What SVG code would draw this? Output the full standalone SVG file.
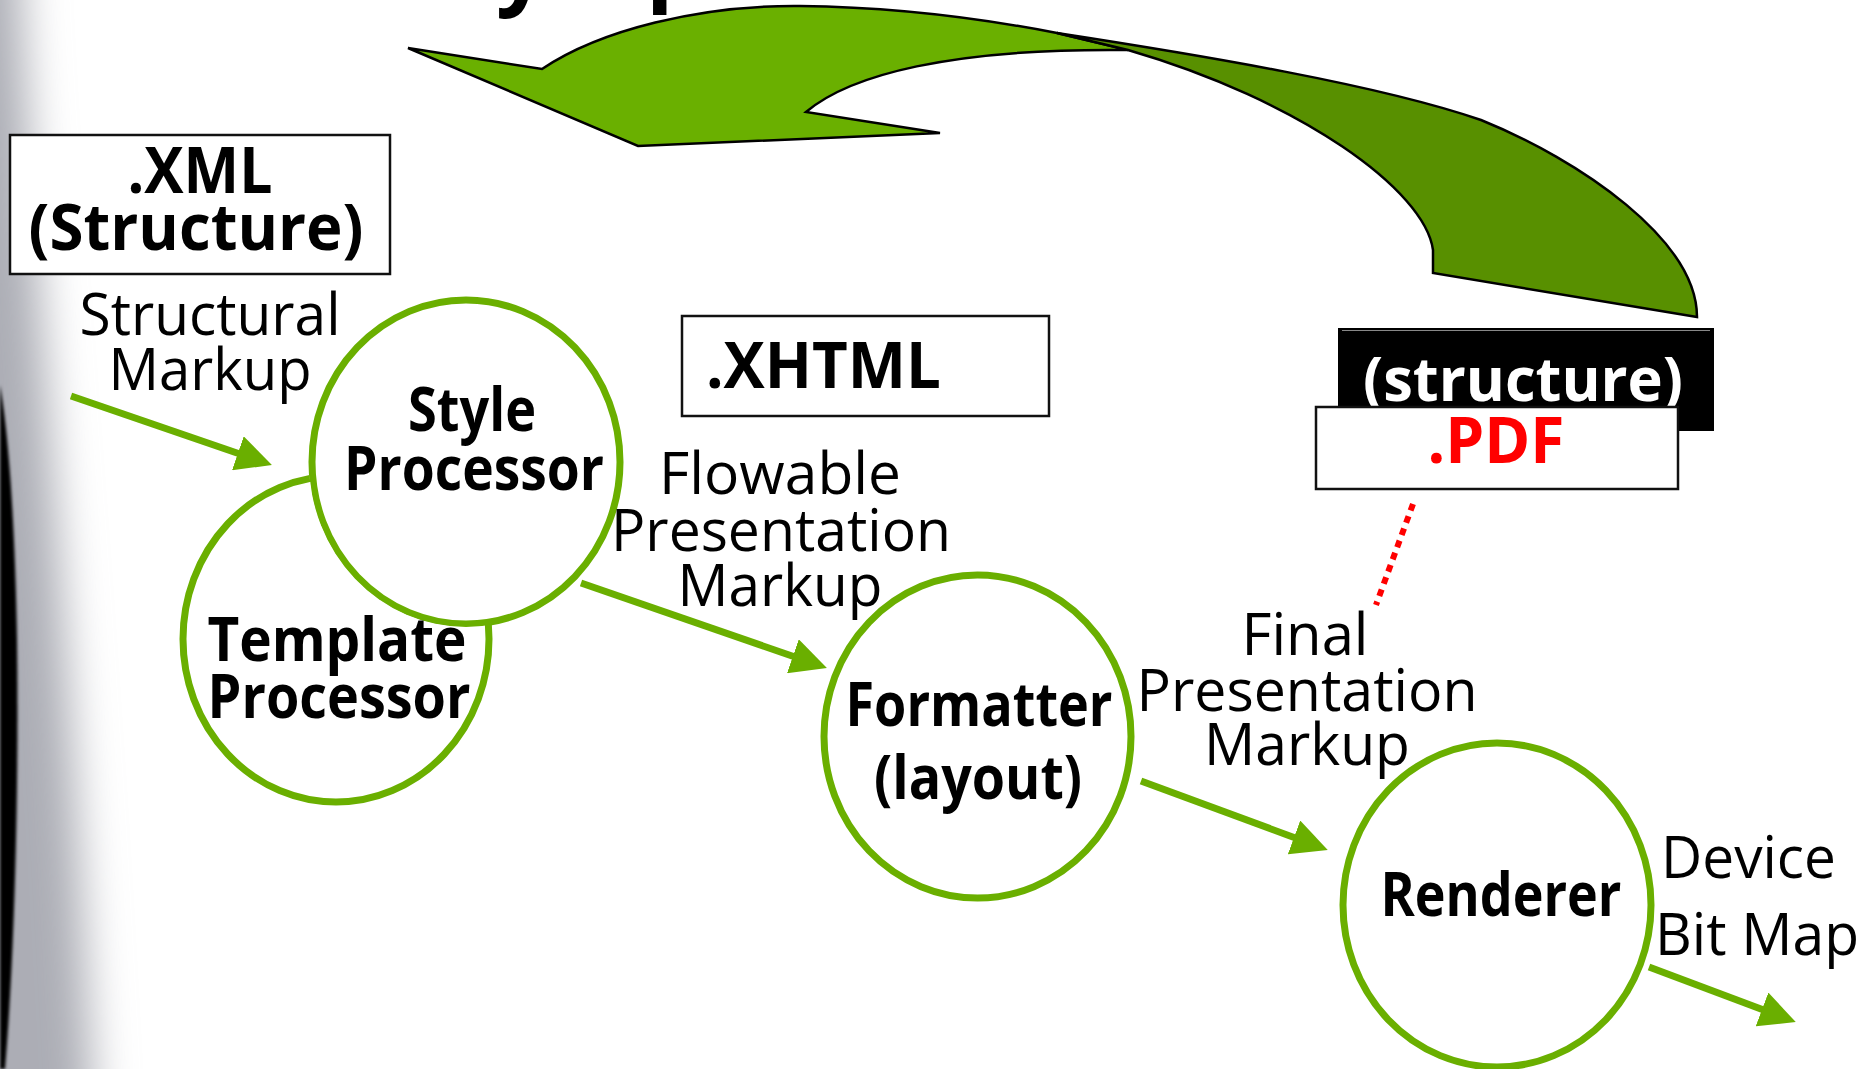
<svg xmlns="http://www.w3.org/2000/svg" width="1867" height="1069" viewBox="0 0 1867 1069">
<defs>
<style>
.lbl{font-family:"Open Sans","Noto Sans","DejaVu Sans",sans-serif;font-size:58px;fill:#000;}
.bold{font-family:"Open Sans","Noto Sans","DejaVu Sans",sans-serif;font-weight:700;font-size:60px;fill:#000;}
.big{font-size:64px;}
.title{font-size:90px;}
.node{fill:#fff;stroke:#6aaf00;stroke-width:7;}
.conn{stroke:#6aaf00;stroke-width:7;fill:none;marker-end:url(#ah);}
.box{fill:#fff;stroke:#111;stroke-width:2.5;}
.band{stroke:#000;stroke-width:2.5;stroke-linejoin:miter;}
</style>
<marker id="ah" markerUnits="userSpaceOnUse" markerWidth="36" markerHeight="36" refX="16" refY="18" orient="auto" viewBox="0 0 36 36">
<path d="M0,0 L36,18 L0,36 Z" fill="#6aaf00"/>
</marker>
<filter id="soft" x="-1" y="-1" width="3" height="3">
<feGaussianBlur stdDeviation="22"/>
</filter>
<filter id="soft2" x="-1" y="-1" width="3" height="3">
<feGaussianBlur stdDeviation="1.5"/>
</filter>
<mask id="outsideStyle" maskUnits="userSpaceOnUse" x="0" y="0" width="1867" height="1069">
<rect width="1867" height="1069" fill="#fff"/>
<ellipse cx="466" cy="462" rx="157" ry="165" fill="#000"/>
</mask>
</defs>
<rect width="1867" height="1069" fill="#fff"/>
<g id="backdrop">
<path d="M-80,-80 H18 C30,250 70,600 95,1150 H-80 Z" fill="#acadb5" filter="url(#soft)"/>
<path d="M0,385 C8,430 15,520 17,640 C19,800 14,960 5,1069 L0,1069 Z" fill="#000" filter="url(#soft2)"/>
<text class="bold title" x="496" y="-3">y</text>
<text class="bold title" x="646" y="-7">p</text>
</g>
<g id="connectors">
<g id="cycle-arrow">
<path class="band" fill="#6ab000" d="M408,48 L542,69 C600,30 700,5 800,6 C900,7 990,20 1057,33 L1128,50 C950,48 850,75 806,112 L940,133 L638,146 Z"/>
<path class="band" fill="#589000" d="M1057,33 C1200,55 1380,85 1481,120 C1580,160 1697,240 1697,317 L1433,273 L1433,250 C1425,190 1300,100 1128,50 Z"/>
</g>
<line class="conn" x1="71" y1="396" x2="253" y2="458.5"/>
<line class="conn" x1="581" y1="583" x2="808" y2="661.5"/>
<line class="conn" x1="1141" y1="781" x2="1309" y2="843"/>
<line class="conn" x1="1649" y1="967" x2="1777" y2="1015"/>
<line x1="1413" y1="504" x2="1376" y2="605" stroke="#ff0000" stroke-width="6" stroke-dasharray="7 6"/>
</g>
<g id="xml">
<rect class="box" x="10" y="135" width="380" height="139"/>
<text class="bold big" x="200" y="193" text-anchor="middle" textLength="145" lengthAdjust="spacingAndGlyphs">.XML</text>
<text class="bold big" x="196" y="250" text-anchor="middle" textLength="335" lengthAdjust="spacingAndGlyphs">(Structure)</text>
</g>
<g id="structural-label">
<text class="lbl" x="210" y="335" text-anchor="middle" textLength="261" lengthAdjust="spacingAndGlyphs">Structural</text>
<text class="lbl" x="210" y="390" text-anchor="middle" textLength="203" lengthAdjust="spacingAndGlyphs">Markup</text>
</g>
<g id="style-processor">
<ellipse class="node" cx="466" cy="462" rx="154" ry="162"/>
<text class="bold" x="472" y="431" text-anchor="middle" textLength="128" lengthAdjust="spacingAndGlyphs">Style</text>
<text class="bold" x="474" y="490" text-anchor="middle" textLength="260" lengthAdjust="spacingAndGlyphs">Processor</text>
</g>
<g id="template-processor">
<ellipse class="node" cx="336" cy="639" rx="153" ry="163" mask="url(#outsideStyle)"/>
<text class="bold" x="337" y="661" text-anchor="middle" textLength="259" lengthAdjust="spacingAndGlyphs">Template</text>
<text class="bold" x="339" y="718" text-anchor="middle" textLength="263" lengthAdjust="spacingAndGlyphs">Processor</text>
</g>
<g id="xhtml">
<rect class="box" x="682" y="316" width="367" height="100"/>
<text class="bold big" x="706" y="388" textLength="235" lengthAdjust="spacingAndGlyphs">.XHTML</text>
</g>
<g id="flowable-label">
<text class="lbl" x="780" y="494" text-anchor="middle" textLength="242" lengthAdjust="spacingAndGlyphs">Flowable</text>
<text class="lbl" x="781" y="551" text-anchor="middle" textLength="340" lengthAdjust="spacingAndGlyphs">Presentation</text>
<text class="lbl" x="780" y="606" text-anchor="middle" textLength="205" lengthAdjust="spacingAndGlyphs">Markup</text>
</g>
<g id="formatter">
<ellipse class="node" cx="977.5" cy="736.5" rx="153.5" ry="161.5"/>
<text class="bold" x="979" y="726" text-anchor="middle" textLength="267" lengthAdjust="spacingAndGlyphs">Formatter</text>
<text class="bold" x="978" y="799" text-anchor="middle" textLength="208" lengthAdjust="spacingAndGlyphs">(layout)</text>
</g>
<g id="pdf">
<rect x="1338" y="328" width="376" height="103" fill="#000"/>
<line x1="1342" y1="330.5" x2="1710" y2="330.5" stroke="#888" stroke-width="1"/>
<text class="bold" x="1523" y="401" text-anchor="middle" style="fill:#fff" textLength="320" lengthAdjust="spacingAndGlyphs">(structure)</text>
<rect class="box" x="1316" y="407" width="362" height="82"/>
<text class="bold big" x="1496" y="463" text-anchor="middle" style="fill:#ff0000" textLength="137" lengthAdjust="spacingAndGlyphs">.PDF</text>
</g>
<g id="final-label">
<text class="lbl" x="1305" y="655" text-anchor="middle" textLength="127" lengthAdjust="spacingAndGlyphs">Final</text>
<text class="lbl" x="1307" y="711" text-anchor="middle" textLength="341" lengthAdjust="spacingAndGlyphs">Presentation</text>
<text class="lbl" x="1307" y="765" text-anchor="middle" textLength="206" lengthAdjust="spacingAndGlyphs">Markup</text>
</g>
<g id="renderer">
<ellipse class="node" cx="1497" cy="905" rx="154" ry="162"/>
<text class="bold" x="1501" y="916" text-anchor="middle" textLength="241" lengthAdjust="spacingAndGlyphs">Renderer</text>
</g>
<g id="device-label">
<text class="lbl" x="1661" y="878" textLength="175" lengthAdjust="spacingAndGlyphs">Device</text>
<text class="lbl" x="1655" y="955" textLength="204" lengthAdjust="spacingAndGlyphs">Bit Map</text>
</g>
</svg>
